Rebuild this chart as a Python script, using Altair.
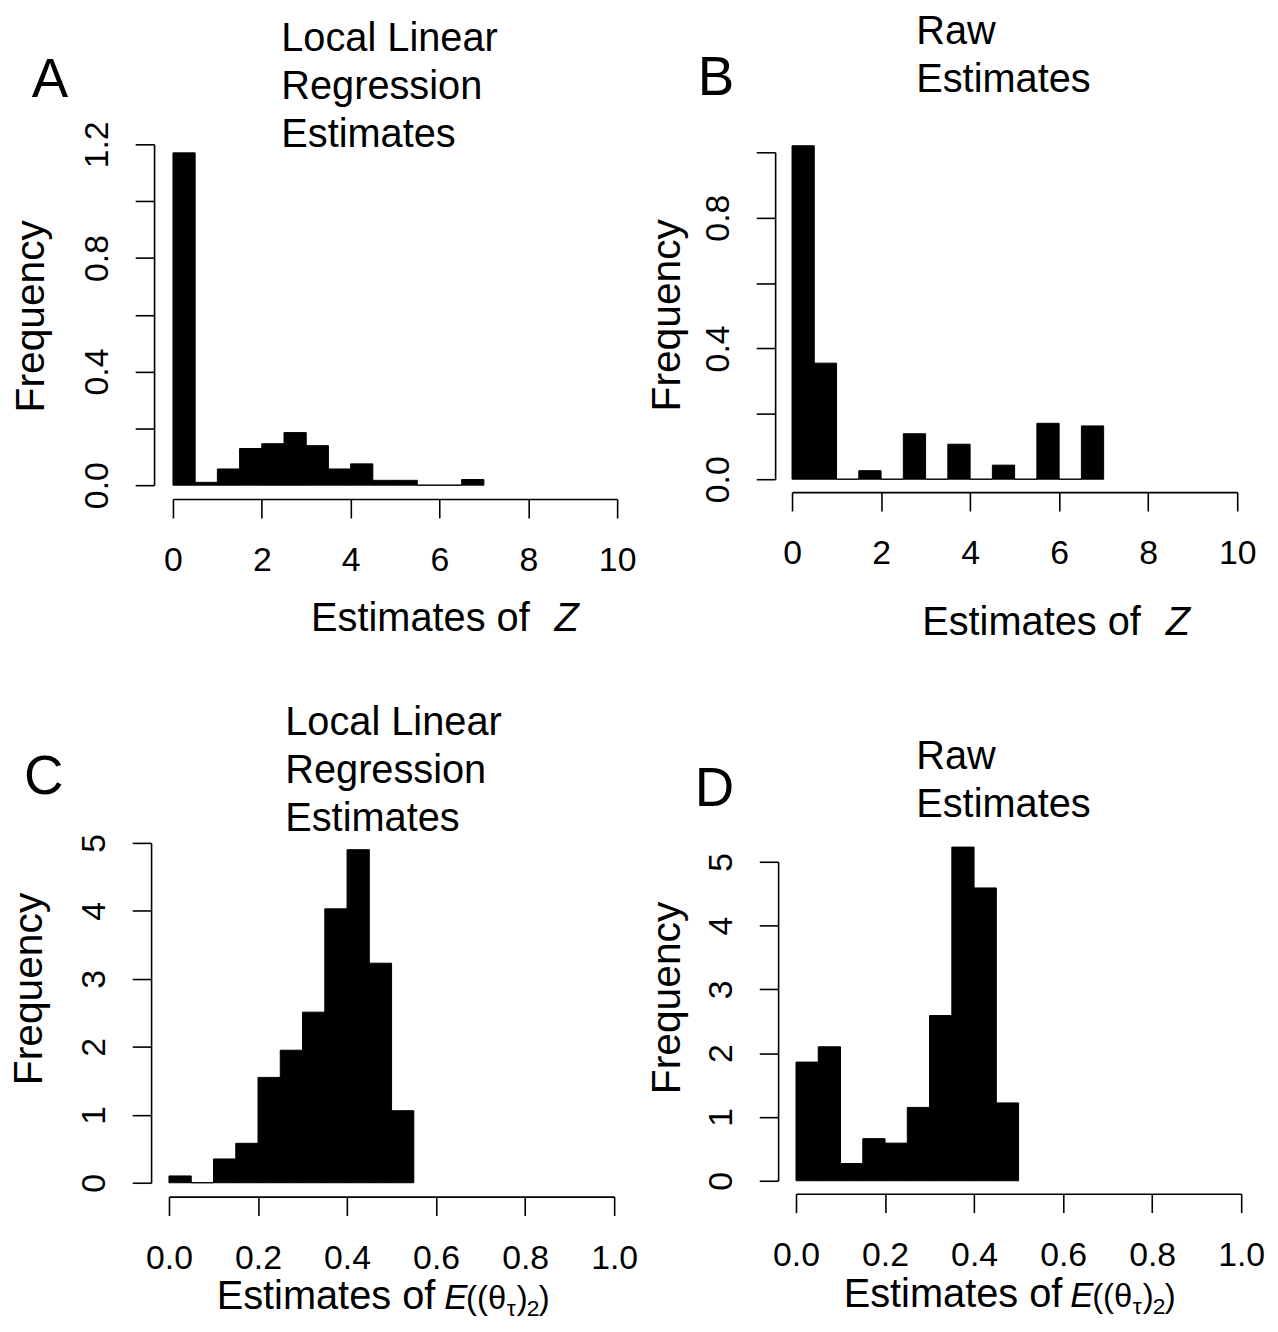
import altair as alt
import pandas as pd

FONT = "Liberation Sans"

# ---------------- data ----------------
# Panel A: local linear regression estimates of Z (bins of width 0.5)
a_edges = [0, 0.5, 1, 1.5, 2, 2.5, 3, 3.5, 4, 4.5, 5, 5.5, 6, 6.5, 7]
a_freq = [1.17, 0.01, 0.057, 0.129, 0.146, 0.185, 0.139, 0.057, 0.075, 0.017, 0.017, 0.0, 0.0, 0.02]

# Panel B: raw estimates of Z
b_edges = [0, 0.5, 1, 1.5, 2, 2.5, 3, 3.5, 4, 4.5, 5, 5.5, 6, 6.5, 7]
b_freq = [1.02, 0.355, 0.0, 0.026, 0.0, 0.139, 0.0, 0.107, 0.0, 0.043, 0.0, 0.171, 0.0, 0.163]

# Panel C: local linear regression estimates of E((theta_tau)_2) (bins of width 0.05)
c_edges = [0, 0.05, 0.1, 0.15, 0.2, 0.25, 0.3, 0.35, 0.4, 0.45, 0.5, 0.55]
c_freq = [0.10, 0.0, 0.35, 0.58, 1.55, 1.95, 2.51, 4.03, 4.90, 3.23, 1.06]

# Panel D: raw estimates of E((theta_tau)_2)
d_edges = [0, 0.05, 0.1, 0.15, 0.2, 0.25, 0.3, 0.35, 0.4, 0.45, 0.5]
d_freq = [1.86, 2.10, 0.27, 0.66, 0.59, 1.15, 2.59, 5.23, 4.59, 1.22]

z_ticks = [0, 2, 4, 6, 8, 10]
e_ticks = [0, 0.2, 0.4, 0.6, 0.8, 1.0]
ya_ticks = [0, 0.2, 0.4, 0.6, 0.8, 1.0, 1.2]
yb_ticks = [0, 0.2, 0.4, 0.6, 0.8, 1.0]
ycd_ticks = [0, 1, 2, 3, 4, 5]

AX = dict(domain=True, domainColor="black", domainWidth=1.6, ticks=True,
          tickColor="black", tickWidth=1.6, tickSize=19, labelFont=FONT,
          labelFontSize=34, labelColor="black", grid=False, title=None,
          labelOverlap=False, labelFlush=False)
EVERY_OTHER = "round(datum.value*10) % 4 == 0 ? format(datum.value, '.1f') : ''"


def bars(edges, freq, xdom, xr, xvals, xfmt, ydom, yr, yvals, yexpr, yoff):
    df = pd.DataFrame({"x0": edges[:-1], "x1": edges[1:], "f": freq})
    yaxis = dict(AX, values=yvals, labelAngle=270, labelAlign="center",
                 labelBaseline="alphabetic", labelPadding=28, offset=yoff)
    if yexpr:
        yaxis["labelExpr"] = yexpr
    else:
        yaxis["format"] = "d"
    return alt.Chart(df).mark_bar(color="black", stroke="black", strokeWidth=1).encode(
        x=alt.X("x0:Q", scale=alt.Scale(domain=xdom, range=xr, nice=False, zero=False),
                axis=alt.Axis(values=xvals, format=xfmt, labelPadding=26, **AX)),
        x2="x1:Q",
        y=alt.Y("f:Q", scale=alt.Scale(domain=ydom, range=yr, nice=False, zero=False),
                axis=alt.Axis(**yaxis)),
        y2=alt.datum(0),
    )


def txt(s, x, y, size=40, angle=0, align="left", style="normal"):
    return alt.Chart(pd.DataFrame({"t": [s]})).mark_text(
        align=align, baseline="alphabetic", font=FONT, fontSize=size,
        fontStyle=style, angle=angle, color="black"
    ).encode(x=alt.value(x), y=alt.value(y), text="t:N")


def math_label(x0, y):
    # E((theta_tau)_2)
    return [
        txt("E", x0, y, 35, style="italic"),
        txt("((θ", x0 + 22, y, 33),
        txt("τ", x0 + 63, y + 7, 23),
        txt(")", x0 + 73, y, 33),
        txt("2", x0 + 83, y + 7, 23),
        txt(")", x0 + 95, y, 33),
    ]


panel_a = alt.layer(
    bars(a_edges, a_freq, [0, 10], [19, 466], z_ticks, "d",
         [0, 1.2], [353, 10], ya_ticks, EVERY_OTHER, 0),
    txt("A", -123, -38, 55),
    txt("Local Linear", 128, -84), txt("Regression", 128, -36), txt("Estimates", 128, 13),
    txt("Frequency", -111, 183, 41, angle=270, align="center"),
    txt("Estimates of", 158, 500), txt("Z", 403, 500, style="italic"),
).properties(width=600, height=367)

panel_b = alt.layer(
    bars(b_edges, b_freq, [0, 10], [14, 462], z_ticks, "d",
         [0, 1.0], [347, 18], yb_ticks, EVERY_OTHER, 3),
    txt("B", -81, -40, 55),
    txt("Raw", 139, -91), txt("Estimates", 139, -43),
    txt("Frequency", -99, 182, 41, angle=270, align="center"),
    txt("Estimates of", 145, 504), txt("Z", 390, 504, style="italic"),
).properties(width=480, height=360)

panel_c = alt.layer(
    bars(c_edges, c_freq, [0, 1], [15, 463], e_ticks, ".1f",
         [0, 5], [355, 13], ycd_ticks, None, 3),
    txt("C", -131, -36, 55),
    txt("Local Linear", 132, -96), txt("Regression", 132, -47), txt("Estimates", 132, 1),
    txt("Frequency", -113, 160, 41, angle=270, align="center"),
    txt("Estimates of", 63, 482), *math_label(292, 482),
).properties(width=600, height=369)

panel_d = alt.layer(
    bars(d_edges, d_freq, [0, 1], [18, 466], e_ticks, ".1f",
         [0, 5], [353, 32], ycd_ticks, None, 0),
    txt("D", -84, -24, 55),
    txt("Raw", 139, -61), txt("Estimates", 139, -13),
    txt("Frequency", -99, 169, 41, angle=270, align="center"),
    txt("Estimates of", 66, 480), *math_label(294, 480),
).properties(width=480, height=366)

chart = alt.ConcatChart(
    concat=[panel_a, panel_b, panel_c, panel_d],
    columns=2, bounds="flush", align="each",
    spacing=alt.RowColnumber(row=333, column=28),
).configure(padding={"left": 1, "top": 0, "right": 5, "bottom": 5},
            background="white").configure_view(stroke=None)

chart.save("out.html", embed_options={"renderer": "svg", "actions": False})
